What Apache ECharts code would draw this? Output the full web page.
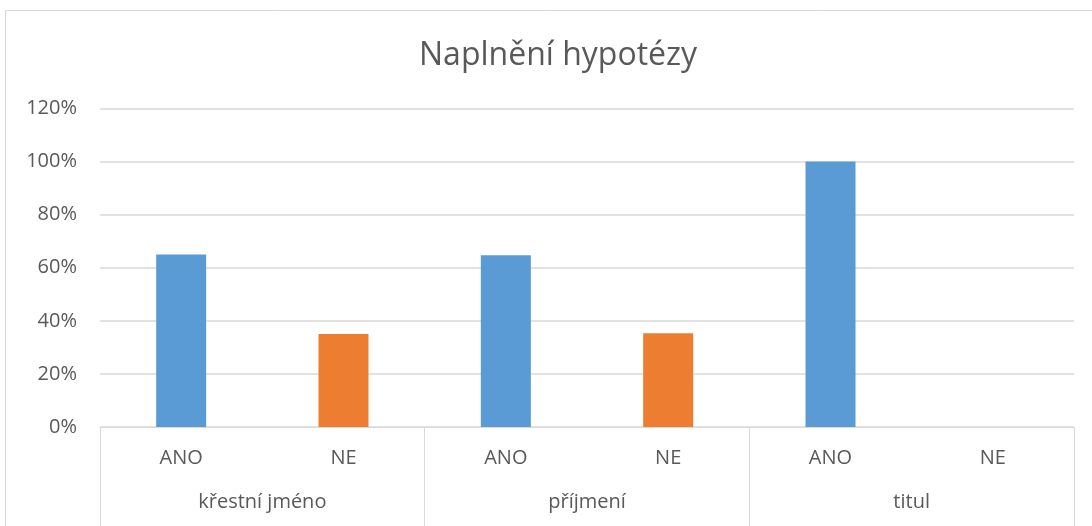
<!DOCTYPE html>
<html>
<head>
<meta charset="utf-8">
<script src="https://cdn.jsdelivr.net/npm/echarts@6/dist/echarts.min.js"></script>
<style>
  html, body { margin: 0; padding: 0; background: #fff; }
  #chart { width: 1092px; height: 526px; }
</style>
</head>
<body>
<div id="chart"></div>
<script>
const title = "Naplnění hypotézy";
const categories = ["ANO", "NE", "ANO", "NE", "ANO", "NE"];
const groups = ["křestní jméno", "příjmení", "titul"];
const values = [0.65, 0.35, 0.647, 0.353, 1.0, 0];
const yTicks = [0, 0.2, 0.4, 0.6, 0.8, 1.0, 1.2];

const colorByAnswer = { ANO: "#5B9BD5", NE: "#ED7D31" };
const textColor = "#595959";
const lineColor = "#d9d9d9";
const font = "Open Sans";

const chart = echarts.init(document.getElementById("chart"));

chart.setOption({
  animation: false,
  title: {
    text: title,
    left: 414,
    top: 35,
    textStyle: {
      fontFamily: font,
      fontSize: 32,
      fontWeight: "normal",
      color: textColor,
    },
  },
  graphic: [
    {
      type: "rect",
      shape: { x: 5.5, y: 10.5, width: 1200, height: 600 },
      style: { fill: "none", stroke: lineColor, lineWidth: 1 },
      silent: true,
    },
  ],
  grid: {
    left: 100,
    right: 18,
    top: 108.5,
    bottom: 99,
  },
  xAxis: [
    {
      type: "category",
      data: categories,
      position: "bottom",
      axisLine: { lineStyle: { color: lineColor, width: 1 } },
      axisTick: { show: false },
      axisLabel: {
        margin: 21,
        fontFamily: font,
        fontSize: 20,
        color: textColor,
      },
    },
    {
      type: "category",
      data: groups,
      position: "bottom",
      offset: 0,
      axisLine: { show: false },
      axisTick: { show: true, length: 100, lineStyle: { color: lineColor, width: 1 } },
      axisLabel: {
        margin: 65,
        fontFamily: font,
        fontSize: 20,
        color: textColor,
      },
    },
  ],
  yAxis: {
    type: "value",
    min: yTicks[0],
    max: yTicks[yTicks.length - 1],
    interval: yTicks[1] - yTicks[0],
    axisLine: { show: false },
    axisTick: { show: false },
    splitLine: { lineStyle: { color: lineColor, width: 1.5 } },
    axisLabel: {
      margin: 23,
      fontFamily: font,
      fontSize: 20,
      color: textColor,
      formatter: (v) => Math.round(v * 100) + "%",
    },
  },
  series: [
    {
      type: "bar",
      xAxisIndex: 0,
      barWidth: 50,
      data: values.map((v, i) => ({
        value: v,
        itemStyle: { color: colorByAnswer[categories[i]] },
      })),
    },
  ],
});
</script>
</body>
</html>
